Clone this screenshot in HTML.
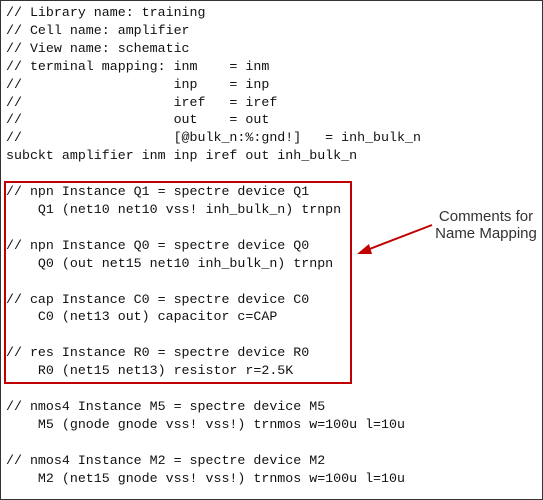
<!DOCTYPE html>
<html><head><style>
html,body{margin:0;padding:0;background:#fff;}
#f{position:relative;width:541px;height:498px;border:1px solid #333;overflow:hidden;}
pre{position:absolute;left:5px;top:3px;margin:0;font-family:"Liberation Mono",monospace;font-size:13.3px;line-height:17.9px;color:#111;}
#box{position:absolute;left:3px;top:180px;width:344px;height:199px;border:2px solid #c00000;}
#lbl{position:absolute;left:420px;top:207px;width:130px;text-align:center;font-family:"Liberation Sans",sans-serif;font-size:15px;line-height:17px;color:#333;}
</style></head><body><div id="f">
<pre>// Library name: training
// Cell name: amplifier
// View name: schematic
// terminal mapping: inm    = inm
//                   inp    = inp
//                   iref   = iref
//                   out    = out
//                   [@bulk_n:%:gnd!]   = inh_bulk_n
subckt amplifier inm inp iref out inh_bulk_n

// npn Instance Q1 = spectre device Q1
    Q1 (net10 net10 vss! inh_bulk_n) trnpn

// npn Instance Q0 = spectre device Q0
    Q0 (out net15 net10 inh_bulk_n) trnpn

// cap Instance C0 = spectre device C0
    C0 (net13 out) capacitor c=CAP

// res Instance R0 = spectre device R0
    R0 (net15 net13) resistor r=2.5K

// nmos4 Instance M5 = spectre device M5
    M5 (gnode gnode vss! vss!) trnmos w=100u l=10u

// nmos4 Instance M2 = spectre device M2
    M2 (net15 gnode vss! vss!) trnmos w=100u l=10u</pre>
<div id="box"></div>
<div id="lbl">Comments for<br>Name Mapping</div>
<svg width="543" height="500" style="position:absolute;left:0;top:0">
<line x1="431" y1="224" x2="366" y2="249" stroke="#c00000" stroke-width="2"/>
<polygon points="356,253 368,243 371,253" fill="#c00000"/>
</svg>
</div></body></html>
